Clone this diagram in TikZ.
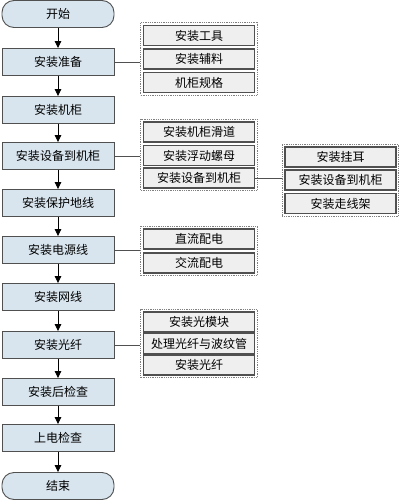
\documentclass[tikz,border=0pt]{standalone}
\usepackage{fontspec}
\setmainfont{Noto Sans CJK SC}
\usetikzlibrary{arrows.meta,fit}
\definecolor{mainfill}{HTML}{D8E5EE}
\definecolor{subfill}{HTML}{EFEFEF}
\definecolor{edgec}{HTML}{505050}
\begin{document}
\begin{tikzpicture}[x=1pt,y=-1pt,
  mainbox/.style={draw=edgec,line width=0.9pt,fill=mainfill,minimum width=112pt,minimum height=27pt,inner sep=0pt,font=\fontsize{12}{13}\selectfont},
  termbox/.style={mainbox,rounded corners=12pt},
  subbox/.style={draw=edgec,line width=1.1pt,fill=subfill,minimum width=111pt,minimum height=20pt,inner sep=0pt,font=\fontsize{12}{13}\selectfont},
  groupbox/.style={draw=gray,dash pattern=on 1pt off 0.8pt,line width=0.9pt,inner sep=2.2pt},
  flow/.style={line width=0.8pt,-{Triangle[width=6.5pt,length=7pt]}},
  link/.style={line width=0.8pt,draw=edgec}]
\useasboundingbox (0,0) rectangle (400,500);
\fill[white] (0,0) rectangle (400,500);
% main column
\node[termbox] (n0) at (58,14) {开始};
\node[mainbox] (n1) at (58,62) {安装准备};
\node[mainbox] (n2) at (58,110) {安装机柜};
\node[mainbox] (n3) at (58,156) {安装设备到机柜};
\node[mainbox] (n4) at (58,203) {安装保护地线};
\node[mainbox] (n5) at (58,250) {安装电源线};
\node[mainbox] (n6) at (58,297) {安装网线};
\node[mainbox] (n7) at (58,345) {安装光纤};
\node[mainbox] (n8) at (58,392) {安装后检查};
\node[mainbox] (n9) at (58,438) {上电检查};
\node[termbox] (n10) at (58,486) {结束};
\foreach \a/\b in {n0/n1,n1/n2,n2/n3,n3/n4,n4/n5,n5/n6,n6/n7,n7/n8,n8/n9,n9/n10}
  \draw[flow] (\a) -- (\b);
% group 1
\node[subbox] (a1) at (199,35.5) {安装工具};
\node[subbox] (a2) at (199,59) {安装辅料};
\node[subbox] (a3) at (199,82.5) {机柜规格};
\node[groupbox,fit=(a1)(a3)] (ga) {};
% group 2
\node[subbox] (b1) at (199,132) {安装机柜滑道};
\node[subbox] (b2) at (199,155.5) {安装浮动螺母};
\node[subbox] (b3) at (199,178) {安装设备到机柜};
\node[groupbox,fit=(b1)(b3)] (gb) {};
% group 3
\node[subbox] (c1) at (340.5,157) {安装挂耳};
\node[subbox] (c2) at (340.5,180) {安装设备到机柜};
\node[subbox] (c3) at (340.5,203.5) {安装走线架};
\node[groupbox,fit=(c1)(c3)] (gc) {};
% group 4
\node[subbox] (d1) at (199,239) {直流配电};
\node[subbox] (d2) at (199,263) {交流配电};
\node[groupbox,fit=(d1)(d2)] (gd) {};
% group 5
\node[subbox] (e1) at (199,322) {安装光模块};
\node[subbox] (e2) at (199,343.5) {处理光纤与波纹管};
\node[subbox] (e3) at (199,365) {安装光纤};
\node[groupbox,fit=(e1)(e3)] (ge) {};
% links
\draw[link] (n1.east) -- (ga.west|-n1.east);
\draw[link] (n3.east) -- (gb.west|-n3.east);
\draw[link] (b3.east) -- (gc.west|-b3.east);
\draw[link] (n5.east) -- (gd.west|-n5.east);
\draw[link] (n7.east) -- (ge.west|-n7.east);
\end{tikzpicture}
\end{document}
